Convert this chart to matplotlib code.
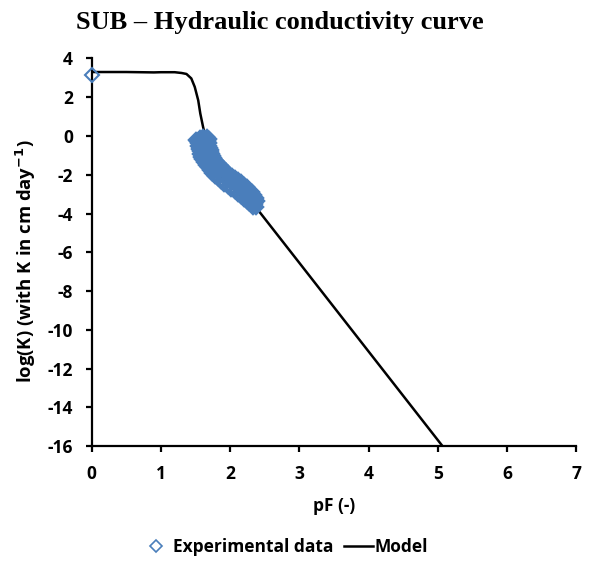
import matplotlib
matplotlib.use("Agg")
import matplotlib.pyplot as plt
from matplotlib.lines import Line2D

# ---- data ----
pf_model = [0.0, 0.5, 0.9, 1.0, 1.2, 1.3, 1.37, 1.44, 1.49, 1.54, 1.57, 1.61, 1.64,
            1.75, 1.9, 2.1, 2.4, 3.0, 4.0, 5.07]
logk_model = [3.3, 3.3, 3.28, 3.29, 3.29, 3.25, 3.2, 2.97, 2.53, 1.84, 1.16, 0.47, 0.0,
              -1.5, -2.2, -2.9, -3.8, -6.54, -11.11, -16.0]

# experimental points (dense band, read level by level)
pf_exp = [0.0,
          1.51, 1.56, 1.61, 1.66, 1.70,
          1.52, 1.60, 1.68,
          1.53, 1.61, 1.69,
          1.54, 1.62, 1.70,
          1.55, 1.63, 1.71,
          1.56, 1.64, 1.72,
          1.57, 1.65, 1.73,
          1.58, 1.66, 1.74,
          1.60, 1.68, 1.76,
          1.63, 1.70, 1.77,
          1.65, 1.72, 1.79,
          1.68, 1.75, 1.82,
          1.71, 1.78, 1.85,
          1.74, 1.81, 1.88,
          1.78, 1.84, 1.90,
          1.82, 1.88, 1.94,
          1.865, 1.92, 1.975,
          1.915, 1.97, 2.025,
          1.97, 2.02, 2.07,
          2.02, 2.07, 2.12,
          2.065, 2.11, 2.155,
          2.115, 2.16, 2.205,
          2.155, 2.20, 2.245,
          2.20, 2.24, 2.28,
          2.24, 2.28, 2.32,
          2.275, 2.31, 2.345,
          2.31, 2.34, 2.37,
          2.335, 2.36, 2.385,
          2.37]
logk_exp = [3.15,
            -0.20, -0.10, -0.06, -0.06, -0.13,
            -0.25, -0.25, -0.25,
            -0.375, -0.375, -0.375,
            -0.50, -0.50, -0.50,
            -0.645, -0.625, -0.605,
            -0.78, -0.75, -0.72,
            -0.91, -0.875, -0.84,
            -1.06, -1.00, -0.94,
            -1.205, -1.125, -1.045,
            -1.34, -1.25, -1.16,
            -1.485, -1.375, -1.265,
            -1.62, -1.50, -1.38,
            -1.765, -1.625, -1.485,
            -1.91, -1.75, -1.59,
            -2.045, -1.875, -1.705,
            -2.19, -2.00, -1.81,
            -2.325, -2.125, -1.925,
            -2.46, -2.25, -2.04,
            -2.595, -2.375, -2.155,
            -2.73, -2.50, -2.27,
            -2.855, -2.625, -2.395,
            -2.98, -2.75, -2.52,
            -3.105, -2.875, -2.645,
            -3.23, -3.00, -2.77,
            -3.355, -3.125, -2.895,
            -3.45, -3.25, -3.05,
            -3.555, -3.375, -3.195,
            -3.65, -3.50, -3.35,
            -3.68]

x_ticks = [0, 1, 2, 3, 4, 5, 6, 7]
y_ticks = [4, 2, 0, -2, -4, -6, -8, -10, -12, -14, -16]

plt.rcParams["font.family"] = ["Open Sans", "DejaVu Sans"]
plt.rcParams["axes.unicode_minus"] = False
blue = "#4a7ebb"

fig = plt.figure(figsize=(5.91, 5.62), dpi=100)
ax = fig.add_axes([0.155, 0.206, 0.82, 0.690])

ax.plot(pf_model, logk_model, color="black", lw=1.8, zorder=2)
# saturated point drawn with a thin edge, the dense band with a heavy edge
ax.plot(pf_exp[:1], logk_exp[:1], ls="none", marker="D", ms=7, mfc="none",
        mec=blue, mew=1.5, zorder=3, clip_on=False)
ax.plot(pf_exp[1:], logk_exp[1:], ls="none", marker="D", ms=6.5, mfc="none",
        mec=blue, mew=2.8, zorder=3, clip_on=False)

ax.set_xlim(0, 7)
ax.set_ylim(-16, 4)
ax.set_xticks(x_ticks)
ax.set_yticks(y_ticks)
for s in ["top", "right"]:
    ax.spines[s].set_visible(False)
for s in ["left", "bottom"]:
    ax.spines[s].set_linewidth(1.6)
ax.tick_params(direction="out", length=4.5, width=1.6, labelsize=12.5, pad=9)
for lab in ax.get_xticklabels() + ax.get_yticklabels():
    lab.set_fontweight("bold")

ax.set_xlabel("pF (-)", fontsize=12.5, fontweight="bold", labelpad=10)
ax.set_ylabel("log(K) (with K in cm day$^{\\mathbf{-1}}$)", fontsize=13.3,
              fontweight="bold", labelpad=6)
ax.yaxis.set_label_coords(-0.11, 0.477)

fig.text(0.474, 0.96, "SUB \u2013 Hydraulic conductivity curve", ha="center",
         va="center", fontsize=19, fontweight="bold", family="Liberation Serif")

handles = [Line2D([], [], ls="none", marker="D", ms=6.5, mfc="none", mec=blue, mew=1.2),
           Line2D([], [], color="black", lw=1.8)]
fig.legend(handles, ["Experimental data", "Model"], loc="center",
           bbox_to_anchor=(0.482, 0.026), ncol=2, frameon=False,
           prop={"weight": "bold", "size": 12.5}, handlelength=1.7,
           columnspacing=0.6, handletextpad=0.1)

fig.savefig("out.png", dpi=100)
